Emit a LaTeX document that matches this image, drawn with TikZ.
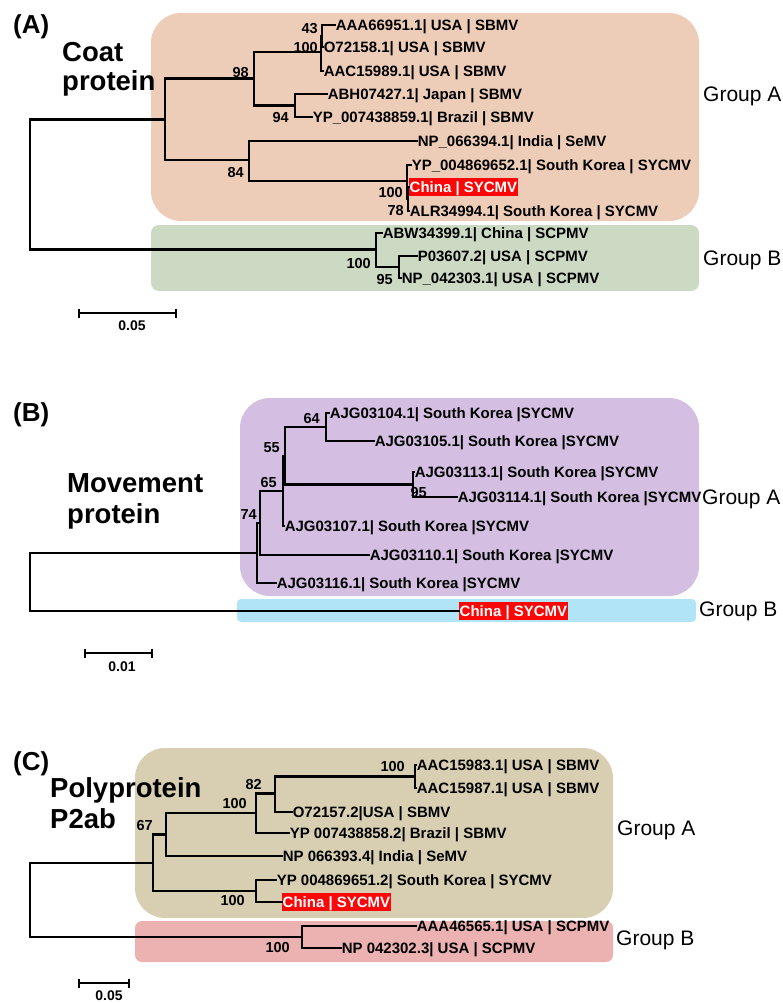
\documentclass[tikz,border=0pt]{standalone}
\usepackage{fontspec}
\setmainfont{Liberation Sans}
\usetikzlibrary{arrows.meta}
\definecolor{boxorange}{RGB}{237,205,184}
\definecolor{boxgreen}{RGB}{204,218,196}
\definecolor{boxpurple}{RGB}{212,191,226}
\definecolor{boxblue}{RGB}{178,228,247}
\definecolor{boxtan}{RGB}{216,207,178}
\definecolor{boxpink}{RGB}{236,177,177}
\definecolor{chred}{RGB}{250,8,8}
\tikzset{
  br/.style={line width=2.1pt, line cap=rect},
  leaf/.style={anchor=west, inner xsep=0.6pt, inner ysep=0pt, text height=10.7pt, text depth=0pt, font=\fontsize{15}{18}\selectfont\bfseries},
  china/.style={leaf, fill=chred, text=white, inner ysep=3.7pt, inner xsep=0.5pt},
  bs/.style={anchor=east, inner sep=0pt, text height=10.4pt, text depth=0pt, font=\fontsize{14.5}{17}\selectfont\bfseries},
  grp/.style={anchor=west, inner sep=0pt, text height=15pt, text depth=0pt, font=\fontsize{21}{25}\selectfont},
  ptitle/.style={anchor=base west, inner sep=0pt, font=\fontsize{27.5}{32}\selectfont\bfseries},
  plabel/.style={anchor=base west, inner sep=0pt, font=\fontsize{26}{30}\selectfont\bfseries},
  sbar/.style={line width=2pt, arrows={Bar[width=9pt,line width=2pt]-Bar[width=9pt,line width=2pt]}},
  sblab/.style={anchor=north, inner sep=0pt, text height=10pt, text depth=0pt, font=\fontsize{14}{17}\selectfont\bfseries}
}
\begin{document}
\begin{tikzpicture}[x=1pt,y=-1pt]
\useasboundingbox (0,0) rectangle (783,1003);
% ---------------- Panel A ----------------
\fill[boxorange, rounded corners=30pt] (151,13) rectangle (699,221);
\fill[boxgreen, rounded corners=8pt] (151,225) rectangle (699,291);
\node[plabel] (labA) at (13,34) {(A)};
\node[ptitle] (tA1) at (62,62) {Coat};
\node[ptitle] (tA2) at (62,91) {protein};
\node[grp] (gAA) at (703,94) {Group A};
\node[grp] (gAB) at (703,258) {Group B};

\coordinate (rA) at (30,184.5);
\coordinate (nA1) at (165,119.5);
\coordinate (nA98) at (254,78.5);
\coordinate (nA100) at (321,52);
\coordinate (nA43) at (322,36);
\coordinate (nA94) at (295,105.5);
\coordinate (nA84) at (249,160);
\coordinate (nAsy) at (407,181);
\coordinate (nA78) at (408,199);
\coordinate (nAgb) at (376,249.5);
\coordinate (nA95) at (399,267);

\node[leaf] (a1) at (335,25) {AAA66951.1| USA | SBMV};
\node[leaf] (a2) at (323,47) {O72158.1| USA | SBMV};
\node[leaf] (a3) at (323,71) {AAC15989.1| USA | SBMV};
\node[leaf] (a4) at (327,94) {ABH07427.1| Japan | SBMV};
\node[leaf] (a5) at (312,117) {YP\_007438859.1| Brazil | SBMV};
\node[leaf] (a6) at (417,141) {NP\_066394.1| India | SeMV};
\node[leaf] (a7) at (411,165) {YP\_004869652.1| South Korea | SYCMV};
\node[china] (a8) at (409,187) {China | SYCMV};
\node[leaf] (a9) at (409,211) {ALR34994.1| South Korea | SYCMV};
\node[leaf] (a10) at (382,233) {ABW34399.1| China | SCPMV};
\node[leaf] (a11) at (417,256) {P03607.2| USA | SCPMV};
\node[leaf] (a12) at (401,278) {NP\_042303.1| USA | SCPMV};

\draw[br] (rA) |- (nA1);
\draw[br] (rA) |- (nAgb);
\draw[br] (nA1) |- (nA98);
\draw[br] (nA1) |- (nA84);
\draw[br] (nA98) |- (nA100);
\draw[br] (nA98) |- (nA94);
\draw[br] (nA100) |- (nA43);
\draw[br] (nA100) |- (a3.west);
\draw[br] (nA43) |- (a1.west);
\draw[br] (nA43) |- (a2.west);
\draw[br] (nA94) |- (a4.west);
\draw[br] (nA94) |- (a5.west);
\draw[br] (nA84) |- (a6.west);
\draw[br] (nA84) |- (nAsy);
\draw[br] (nAsy) |- (a7.west);
\draw[br] (nAsy) |- (nA78);
\draw[br] (nA78) |- (a8.west);
\draw[br] (nA78) |- (a9.west);
\draw[br] (nAgb) |- (a10.west);
\draw[br] (nAgb) |- (nA95);
\draw[br] (nA95) |- (a11.west);
\draw[br] (nA95) |- (a12.west);

\node[bs] (bA1) at (318,28) {43};
\node[bs] (bA2) at (318,47) {100};
\node[bs] (bA3) at (249,72) {98};
\node[bs] (bA4) at (289,117) {94};
\node[bs] (bA5) at (244,172) {84};
\node[bs] (bA6) at (403,192) {100};
\node[bs] (bA7) at (404,210) {78};
\node[bs] (bA8) at (371,263) {100};
\node[bs] (bA9) at (393,279) {95};

\coordinate (sbA1) at (78,313);
\coordinate (sbA2) at (177,313);
\draw[sbar] (sbA1) -- (sbA2);
\node[sblab] (sbAl) at (132,320) {0.05};

% ---------------- Panel B ----------------
\fill[boxpurple, rounded corners=30pt] (240,398) rectangle (699,596);
\fill[boxblue, rounded corners=4pt] (237,599) rectangle (696,622);
\node[plabel] (labB) at (13,421) {(B)};
\node[ptitle] (tB1) at (67,492) {Movement};
\node[ptitle] (tB2) at (67,523) {protein};

\coordinate (rB) at (30,582);
\coordinate (nB74) at (257,553);
\coordinate (nBa) at (260,523);
\coordinate (nB65) at (283,491);
\coordinate (nB55) at (285,456);
\coordinate (nB64) at (326,427);
\coordinate (nB95) at (413,484.5);

\node[leaf] (b1) at (329,413) {AJG03104.1| South Korea |SYCMV};
\node[leaf] (b2) at (374,441) {AJG03105.1| South Korea |SYCMV};
\node[leaf] (b3) at (414,472) {AJG03113.1| South Korea |SYCMV};
\node[leaf] (b4) at (457,497) {AJG03114.1| South Korea |SYCMV};
\node[leaf] (b5) at (284,526) {AJG03107.1| South Korea |SYCMV};
\node[leaf] (b6) at (369,555) {AJG03110.1| South Korea |SYCMV};
\node[leaf] (b7) at (276,583) {AJG03116.1| South Korea |SYCMV};
\node[china] (b8) at (459,611) {China | SYCMV};
\node[grp] (gBA) at (702,497) {Group A};
\node[grp] (gBB) at (699,609) {Group B};

\draw[br] (rB) |- (nB74);
\draw[br] (rB) |- (b8.west);
\draw[br] (nB74) |- (nBa);
\draw[br] (nB74) |- (b7.west);
\draw[br] (nBa) |- (nB65);
\draw[br] (nBa) |- (b6.west);
\draw[br] (nB65) |- (nB55);
\draw[br] (nB65) |- (b5.west);
\draw[br] (nB55) |- (nB64);
\draw[br] (nB55) |- (nB95);
\draw[br] (nB64) |- (b1.west);
\draw[br] (nB64) |- (b2.west);
\draw[br] (nB95) |- (b3.west);
\draw[br] (nB95) |- (b4.west);

\node[bs] (bB1) at (320,418) {64};
\node[bs] (bB2) at (280,447) {55};
\node[bs] (bB3) at (277,482) {65};
\node[bs] (bB4) at (257,514) {74};
\node[bs] (bB5) at (427,492) {95};

\coordinate (sbB1) at (84,653);
\coordinate (sbB2) at (153,653);
\draw[sbar] (sbB1) -- (sbB2);
\node[sblab] (sbBl) at (122,661) {0.01};

% ---------------- Panel C ----------------
\fill[boxtan, rounded corners=30pt] (135,748) rectangle (613,918);
\fill[boxpink, rounded corners=7pt] (135,921) rectangle (613,962);
\node[plabel] (labC) at (13,770) {(C)};
\node[ptitle] (tC1) at (50,797) {Polyprotein};
\node[ptitle] (tC2) at (50,828) {P2ab};
\node[grp] (gCA) at (617,828) {Group A};
\node[grp] (gCB) at (616,938) {Group B};

\coordinate (rC) at (30,900);
\coordinate (nC67) at (153,863);
\coordinate (nC100a) at (166,834.5);
\coordinate (nC82) at (256,813);
\coordinate (nC275) at (275,793.5);
\coordinate (nC415) at (415,776.5);
\coordinate (nCsy) at (256,891);
\coordinate (nC100b) at (302,937);

\node[leaf] (c1) at (416,765) {AAC15983.1| USA | SBMV};
\node[leaf] (c2) at (416,788) {AAC15987.1| USA | SBMV};
\node[leaf] (c3) at (292,812) {O72157.2|USA | SBMV};
\node[leaf] (c4) at (289,833) {YP 007438858.2| Brazil | SBMV};
\node[leaf] (c5) at (282,856) {NP 066393.4| India | SeMV};
\node[leaf] (c6) at (276,880) {YP 004869651.2| South Korea | SYCMV};
\node[china] (c7) at (282,902) {China | SYCMV};
\node[leaf] (c8) at (416,926) {AAA46565.1| USA | SCPMV};
\node[leaf] (c9) at (341,948) {NP 042302.3| USA | SCPMV};

\draw[br] (rC) |- (nC67);
\draw[br] (rC) |- (nC100b);
\draw[br] (nC67) |- (nC100a);
\draw[br] (nC67) |- (nCsy);
\draw[br] (nC100a) |- (nC82);
\draw[br] (nC100a) |- (c5.west);
\draw[br] (nC82) |- (nC275);
\draw[br] (nC82) |- (c4.west);
\draw[br] (nC275) |- (nC415);
\draw[br] (nC275) |- (c3.west);
\draw[br] (nC415) |- (c1.west);
\draw[br] (nC415) |- (c2.west);
\draw[br] (nCsy) |- (c6.west);
\draw[br] (nCsy) |- (c7.west);
\draw[br] (nC100b) |- (c8.west);
\draw[br] (nC100b) |- (c9.west);

\node[bs] (bC1) at (153,825) {67};
\node[bs] (bC2) at (247,803) {100};
\node[bs] (bC3) at (262,784) {82};
\node[bs] (bC4) at (405,766) {100};
\node[bs] (bC5) at (245,900) {100};
\node[bs] (bC6) at (290,947) {100};

\coordinate (sbC1) at (78,983);
\coordinate (sbC2) at (130,983);
\draw[sbar] (sbC1) -- (sbC2);
\node[sblab] (sbCl) at (109,990) {0.05};
\end{tikzpicture}
\end{document}
